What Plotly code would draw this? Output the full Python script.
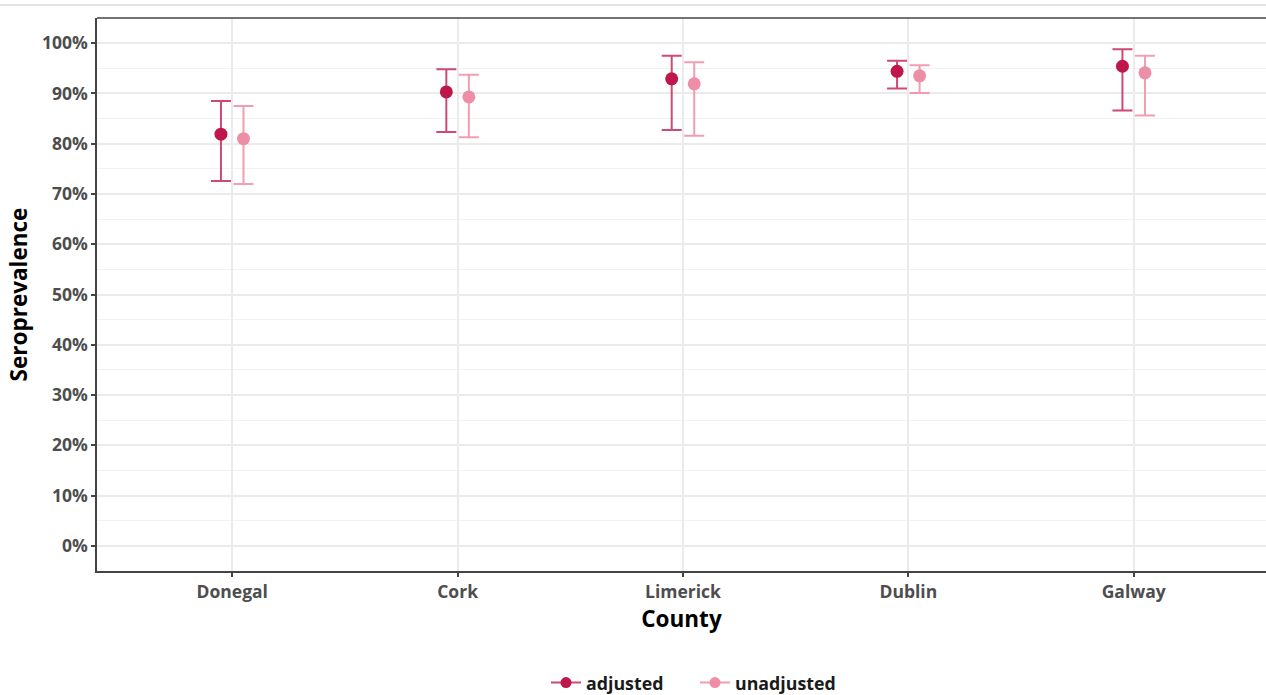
import numpy as np
import plotly.graph_objects as go

counties = ["Donegal", "Cork", "Limerick", "Dublin", "Galway"]
adj_est = [0.819, 0.903, 0.929, 0.944, 0.954]
adj_lo = [0.726, 0.823, 0.827, 0.910, 0.866]
adj_hi = [0.885, 0.948, 0.975, 0.965, 0.988]
unadj_est = [0.810, 0.893, 0.919, 0.935, 0.941]
unadj_lo = [0.720, 0.813, 0.816, 0.901, 0.856]
unadj_hi = [0.875, 0.937, 0.962, 0.956, 0.975]
y_ticks = [0, 0.1, 0.2, 0.3, 0.4, 0.5, 0.6, 0.7, 0.8, 0.9, 1.0]

ADJ_COL = "#C0174A"
ADJ_BAR = "rgba(192,23,74,0.78)"
UNADJ_COL = "#EE8DA6"
UNADJ_BAR = "rgba(238,141,166,0.85)"
FONT = "Open Sans"

idx = np.arange(1, len(counties) + 1)
dodge = 0.05

fig = go.Figure()

def add_series(name, est, lo, hi, xs, col, barcol):
    est = np.array(est); lo = np.array(lo); hi = np.array(hi)
    fig.add_trace(go.Scatter(
        x=xs, y=est, mode="markers", name=name, showlegend=False,
        marker=dict(color=col, size=13, symbol="circle"),
        error_y=dict(type="data", symmetric=False, array=hi - est,
                     arrayminus=est - lo, color=barcol, thickness=2, width=10),
    ))
    fig.add_trace(go.Scatter(
        x=[None], y=[None], mode="lines+markers", name=name,
        marker=dict(color=col, size=11), line=dict(color=barcol, width=2),
    ))

add_series("adjusted", adj_est, adj_lo, adj_hi, idx - dodge, ADJ_COL, ADJ_BAR)
add_series("unadjusted", unadj_est, unadj_lo, unadj_hi, idx + dodge, UNADJ_COL, UNADJ_BAR)

fig.update_layout(
    width=1266, height=695,
    margin=dict(l=97, r=0, t=18, b=124),
    paper_bgcolor="white", plot_bgcolor="white",
    font=dict(family=FONT),
    legend=dict(orientation="h", xref="container", yref="container",
                x=546 / 1266, xanchor="left", y=12 / 695, yanchor="middle",
                font=dict(size=17.8, color="#1a1a1a", family=FONT, weight="bold"),
                itemwidth=30, entrywidth=104, entrywidthmode="pixels",
                tracegroupgap=0),
    xaxis=dict(
        range=[0.4, 5.587], tickmode="array", tickvals=idx, ticktext=counties,
        showgrid=True, gridcolor="#EBEBEB", gridwidth=1.5,
        showline=True, linecolor="#444444", linewidth=1.5,
        ticks="outside", ticklen=4, tickcolor="#444444", tickwidth=1.5,
        tickfont=dict(size=17.5, color="#4D4D4D", family=FONT, weight="bold"),
        title=dict(text="County", standoff=5,
                   font=dict(size=22.5, color="black", family=FONT, weight="bold")),
        zeroline=False,
    ),
    yaxis=dict(
        range=[-0.05, 1.05], tickvals=y_ticks, tickformat=".0%",
        showgrid=True, gridcolor="#EBEBEB", gridwidth=1.5,
        minor=dict(dtick=0.05, tick0=0.05, showgrid=True, gridcolor="#F2F2F2", gridwidth=1),
        showline=True, linecolor="#444444", linewidth=1.5,
        ticks="outside", ticklen=4, tickcolor="#444444", tickwidth=1.5,
        tickfont=dict(size=17.5, color="#4D4D4D", family=FONT, weight="bold"),
        title=dict(text="Seroprevalence", standoff=8,
                   font=dict(size=22.5, color="black", family=FONT, weight="bold")),
        zeroline=False,
    ),
    shapes=[
        dict(type="line", xref="paper", yref="paper", x0=0, x1=1, y0=1, y1=1,
             line=dict(color="#444444", width=1.5)),
        dict(type="line", xref="paper", yref="paper", x0=-97/1169, x1=1,
             y0=1 + 13/553, y1=1 + 13/553, line=dict(color="#C8C8C8", width=1)),
    ],
)

post = """
document.documentElement.style.margin='0';
document.body.style.margin='0';
document.documentElement.style.overflow='hidden';
document.body.style.overflow='hidden';
"""

fig.write_html("out.html", post_script=post,
               config={"displayModeBar": False})
